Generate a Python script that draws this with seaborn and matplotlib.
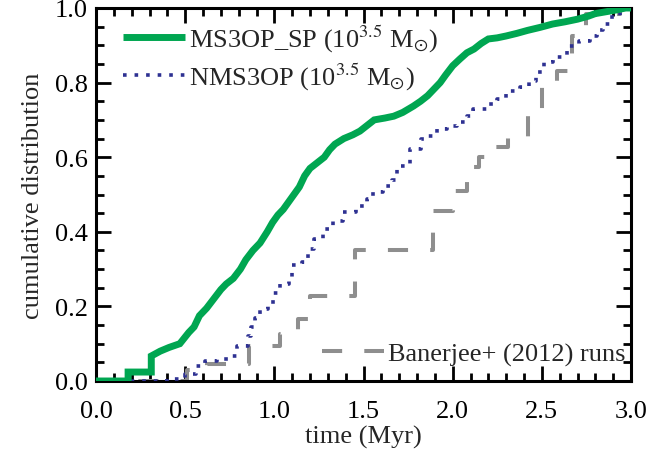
import matplotlib
matplotlib.use("Agg")
import matplotlib.pyplot as plt
from matplotlib.lines import Line2D
from matplotlib.ticker import MultipleLocator, FormatStrFormatter
import seaborn as sns
import pandas as pd

# Cumulative distributions of event times (Myr)
ms3op_sp_time = [0.00, 0.18, 0.18, 0.31, 0.31, 0.36, 0.41, 0.47, 0.52, 0.55, 0.58, 0.62, 0.66, 0.70,
                 0.73, 0.77, 0.81, 0.84, 0.88, 0.92, 0.96, 0.99, 1.02, 1.05, 1.08, 1.11,
                 1.14, 1.17, 1.20, 1.24, 1.28, 1.31, 1.34, 1.39, 1.44, 1.48, 1.52, 1.56,
                 1.62, 1.67, 1.72, 1.78, 1.82, 1.86, 1.90, 1.93, 1.96, 2.00, 2.04, 2.08,
                 2.12, 2.16, 2.20, 2.25, 2.30, 2.36, 2.42, 2.49, 2.56, 2.63, 2.70, 2.76,
                 2.80, 2.86, 2.92, 2.97, 3.00]
ms3op_sp_cdf = [0.0, 0.0, 0.024, 0.024, 0.067, 0.08, 0.09, 0.10, 0.13, 0.145, 0.175, 0.195, 0.22, 0.245,
                0.26, 0.275, 0.30, 0.325, 0.35, 0.37, 0.40, 0.425, 0.445, 0.46, 0.48, 0.50,
                0.52, 0.55, 0.57, 0.585, 0.60, 0.62, 0.635, 0.65, 0.66, 0.67, 0.685, 0.70,
                0.705, 0.71, 0.72, 0.737, 0.75, 0.765, 0.785, 0.80, 0.82, 0.845, 0.863, 0.88,
                0.89, 0.905, 0.917, 0.92, 0.925, 0.932, 0.94, 0.948, 0.957, 0.963, 0.97, 0.978,
                0.985, 0.99, 0.995, 1.0, 1.0]

nms3op_time = [0.00, 0.40, 0.50, 0.56, 0.61, 0.68, 0.74, 0.79, 0.85, 0.87, 0.89, 0.92,
               0.965, 0.99, 1.03, 1.08, 1.10, 1.155, 1.19, 1.22, 1.275, 1.33, 1.385, 1.46,
               1.52, 1.555, 1.61, 1.66, 1.69, 1.76, 1.82, 1.855, 1.91, 1.97, 2.025, 2.08,
               2.115, 2.19, 2.25, 2.30, 2.38, 2.43, 2.47, 2.51, 2.56, 2.64, 2.71, 2.77,
               2.81, 2.845, 2.88, 2.94, 2.98, 3.00]
nms3op_cdf = [0.0, 0.005, 0.02, 0.04, 0.054, 0.06, 0.067, 0.094, 0.12, 0.145, 0.17, 0.193,
              0.206, 0.235, 0.26, 0.28, 0.31, 0.32, 0.354, 0.38, 0.407, 0.43, 0.453, 0.47,
              0.488, 0.507, 0.523, 0.54, 0.577, 0.622, 0.65, 0.657, 0.676, 0.684, 0.694, 0.71,
              0.73, 0.743, 0.756, 0.778, 0.788, 0.805, 0.828, 0.855, 0.868, 0.898, 0.912, 0.925,
              0.94, 0.957, 0.975, 0.99, 1.0, 1.0]

banerjee_time = [0.00, 0.51, 0.62, 0.86, 1.03, 1.13, 1.20, 1.45, 1.89, 2.00, 2.08, 2.15,
                 2.24, 2.31, 2.42, 2.50, 2.585, 2.67, 2.75, 2.94, 3.00]
banerjee_cdf = [0.0, 0.03, 0.045, 0.094, 0.125, 0.165, 0.228, 0.35, 0.456, 0.51, 0.575, 0.60,
                0.627, 0.654, 0.71, 0.788, 0.83, 0.925, 0.985, 1.0, 1.0]

labels = [r"MS3OP_SP (10$^{3.5}$ M$_{\odot}$)",
          r"NMS3OP (10$^{3.5}$ M$_{\odot}$)",
          "Banerjee+ (2012) runs"]

green = "#00a651"
navy = "#2e3192"
grey = "#8e8e8e"

sns.set_style("ticks")
plt.rcParams["font.family"] = ["Liberation Serif", "DejaVu Serif"]
plt.rcParams["mathtext.fontset"] = "stix"
plt.rcParams["font.size"] = 19

fig = plt.figure(figsize=(6.49, 4.56), dpi=100)
ax = fig.add_axes([96 / 649, 1 - 382 / 456, 535 / 649, 373 / 456])

df_g = pd.DataFrame({"t": ms3op_sp_time, "F": ms3op_sp_cdf})
df_n = pd.DataFrame({"t": nms3op_time, "F": nms3op_cdf})
df_b = pd.DataFrame({"t": banerjee_time, "F": banerjee_cdf})

common = dict(ax=ax, sort=False, estimator=None, errorbar=None)
sns.lineplot(data=df_b, x="t", y="F", color=grey, lw=2.9,
             drawstyle="steps-post", linestyle=(0, (5, 5.5)), dash_capstyle="butt",
             zorder=2, **common)
sns.lineplot(data=df_n, x="t", y="F", color=navy, lw=2.6,
             drawstyle="steps-post", linestyle=(0, (1, 2.2)), zorder=3, **common)
sns.lineplot(data=df_g, x="t", y="F", color=green, lw=5,
             solid_capstyle="butt", solid_joinstyle="miter", zorder=4, **common)

ax.set_xlim(0, 3.0)
ax.set_ylim(0, 1.0)
ax.xaxis.set_major_locator(MultipleLocator(0.5))
ax.xaxis.set_minor_locator(MultipleLocator(0.1))
ax.yaxis.set_major_locator(MultipleLocator(0.2))
ax.yaxis.set_minor_locator(MultipleLocator(0.05))
ax.xaxis.set_major_formatter(FormatStrFormatter("%.1f"))
ax.yaxis.set_major_formatter(FormatStrFormatter("%.1f"))
ax.tick_params(which="both", direction="in", top=True, right=True, colors="black",
               labelsize=19)
ax.tick_params(which="major", length=11, width=2.0)
ax.tick_params(which="minor", length=5.5, width=2.0)
ax.tick_params(axis="x", which="major", pad=14)
ax.tick_params(axis="y", which="major", pad=6)
for s in ax.spines.values():
    s.set_linewidth(2.2)
    s.set_color("black")

ax.set_xlabel("time (Myr)", fontsize=19, labelpad=2)
ax.set_ylabel("cumulative distribution", fontsize=19, labelpad=8)

fig.canvas.draw()
ylabels = ax.get_yticklabels()
ylabels[0].set_va("bottom")
ylabels[-1].set_va("top")

h_g = Line2D([], [], color=green, lw=5, solid_capstyle="butt")
h_n = Line2D([], [], color=navy, lw=2.6, linestyle=(0, (1, 2.2)))
h_b = Line2D([], [], color=grey, lw=2.9, linestyle=(0, (5, 5.5)), dash_capstyle="butt")

leg1 = ax.legend([h_g, h_n], labels[:2], loc="upper left", bbox_to_anchor=(0.05, 0.96),
                 frameon=False, borderpad=0, borderaxespad=0, handlelength=2.35,
                 handletextpad=0.15, labelspacing=0.25, fontsize=19)
ax.add_artist(leg1)
ax.legend([h_b], labels[2:], loc="lower right", bbox_to_anchor=(0.99, 0.04),
          frameon=False, borderpad=0, borderaxespad=0, handlelength=2.35,
          handletextpad=0.15, fontsize=19)

fig.savefig("out.png", dpi=100)
